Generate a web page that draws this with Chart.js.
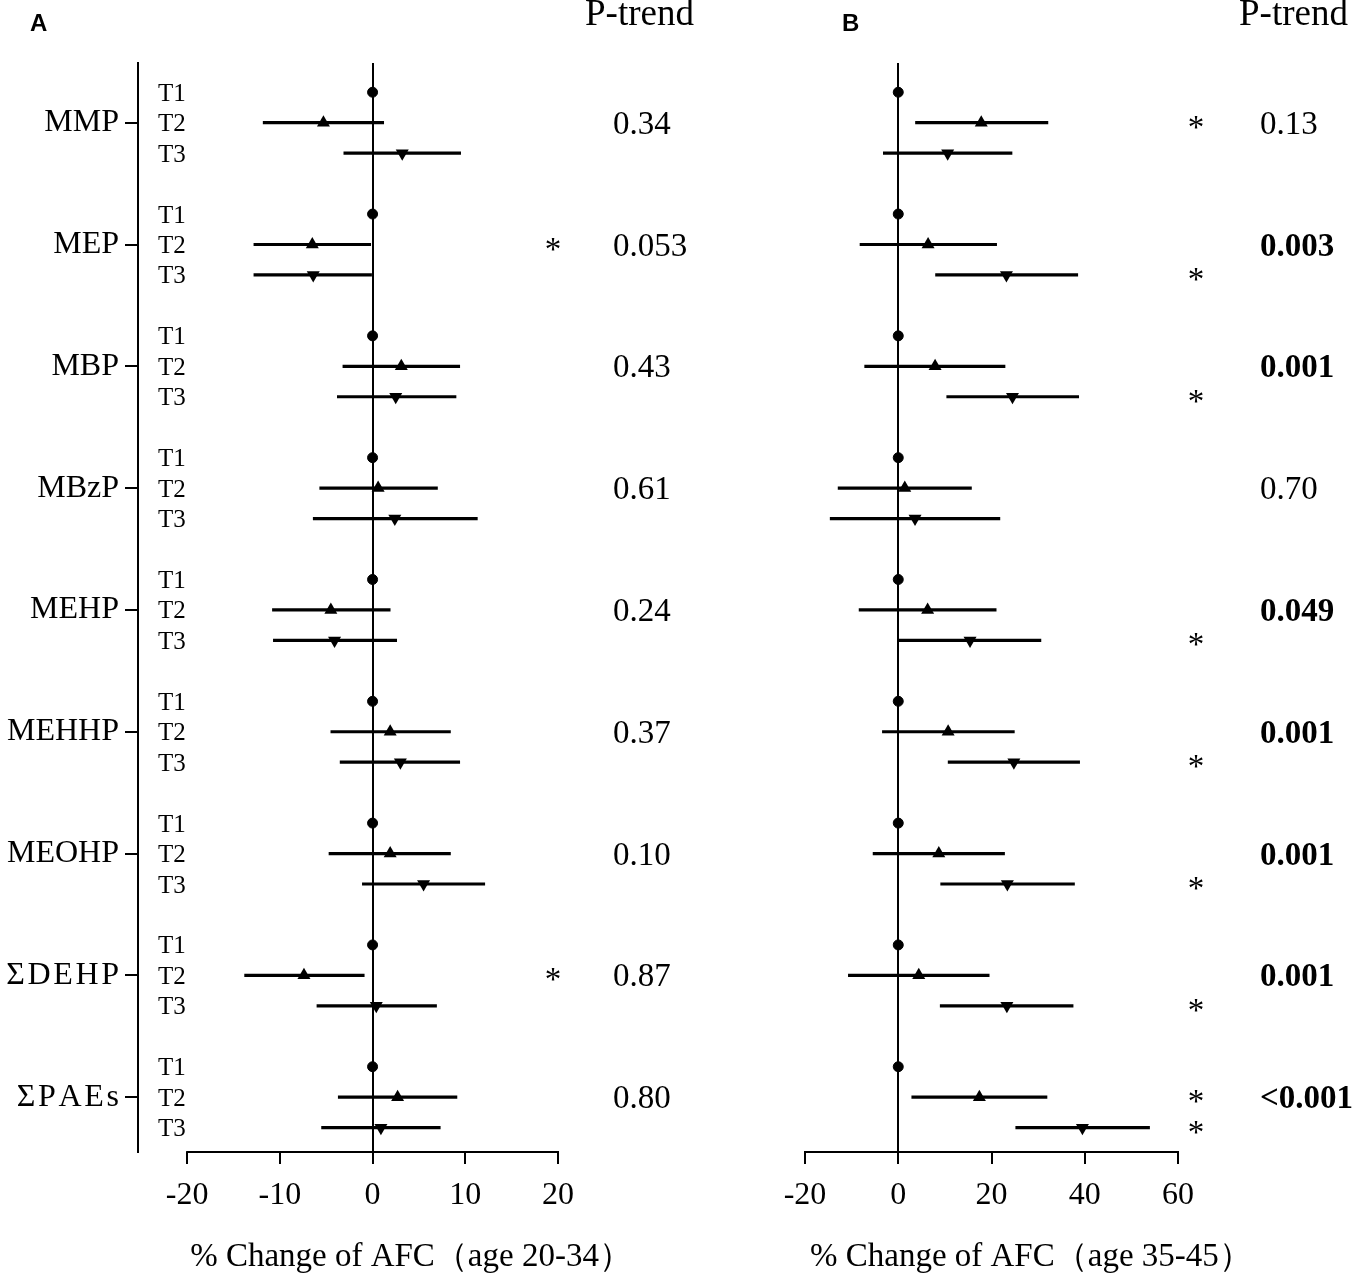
<!DOCTYPE html>
<html>
<head>
<meta charset="utf-8">
<script src="https://cdn.jsdelivr.net/npm/chart.js@4.4.1/dist/chart.umd.min.js"></script>
<style>
  body { margin: 0; background: #fff; }
  #wrap { position: relative; width: 1358px; height: 1283px; }
  canvas { position: absolute; top: 0; }
  #chartA { left: 0; }
  #chartB { left: 720px; }
</style>
</head>
<body>
<div id="wrap">
  <canvas id="chartA" width="720" height="1283"></canvas>
  <canvas id="chartB" width="638" height="1283"></canvas>
</div>
<script>
// ========== DATA ==========
const groupLabels = ['MMP', 'MEP', 'MBP', 'MBzP', 'MEHP', 'MEHHP', 'MEOHP',
  'Σ\u200AD\u200AE\u200AH\u200AP', 'Σ\u200AP\u200AA\u200AE\u200As'];
const tierLabels = ['T1', 'T2', 'T3'];

// Panel A: age 20-34
const aT2Est = [-5.3, -6.5, 3.1, 0.6, -4.5, 1.9, 1.9, -7.4, 2.7];
const aT2Lo  = [-11.8, -12.8, -3.2, -5.7, -10.8, -4.5, -4.7, -13.8, -3.7];
const aT2Hi  = [1.2, -0.2, 9.4, 7.0, 1.9, 8.4, 8.4, -0.9, 9.1];
const aT3Est = [3.2, -6.4, 2.5, 2.4, -4.1, 3.0, 5.5, 0.4, 0.9];
const aT3Lo  = [-3.1, -12.8, -3.8, -6.4, -10.7, -3.5, -1.1, -6.0, -5.5];
const aT3Hi  = [9.5, 0.0, 9.0, 11.3, 2.6, 9.4, 12.1, 6.9, 7.3];
const aPTrend = ['0.34', '0.053', '0.43', '0.61', '0.24', '0.37', '0.10', '0.87', '0.80'];
const aPBold  = [0, 0, 0, 0, 0, 0, 0, 0, 0];
const aStarT2 = [0, 1, 0, 0, 0, 0, 0, 1, 0];
const aStarT3 = [0, 0, 0, 0, 0, 0, 0, 0, 0];
const aTicks  = [-20, -10, 0, 10, 20];

// Panel B: age 35-45
const bT2Est = [17.8, 6.4, 7.9, 1.4, 6.3, 10.7, 8.7, 4.4, 17.4];
const bT2Lo  = [3.7, -8.2, -7.2, -12.9, -8.4, -3.4, -5.4, -10.7, 2.9];
const bT2Hi  = [32.1, 21.1, 22.9, 15.7, 21.0, 24.9, 22.8, 19.5, 31.9];
const bT3Est = [10.6, 23.2, 24.5, 3.6, 15.4, 24.8, 23.4, 23.3, 39.5];
const bT3Lo  = [-3.2, 8.0, 10.4, -14.6, 0.0, 10.7, 9.1, 9.0, 25.2];
const bT3Hi  = [24.4, 38.5, 38.7, 21.8, 30.6, 38.9, 37.8, 37.5, 53.9];
const bPTrend = ['0.13', '0.003', '0.001', '0.70', '0.049', '0.001', '0.001', '0.001', '<0.001'];
const bPBold  = [0, 1, 1, 0, 1, 1, 1, 1, 1];
const bStarT2 = [1, 0, 0, 0, 0, 0, 0, 0, 1];
const bStarT3 = [0, 1, 1, 0, 1, 1, 1, 1, 1];
const bTicks  = [-20, 0, 20, 40, 60];

const SERIF = '"Liberation Serif", "Times New Roman", serif';
const rowOf = (g, t) => g * 4 + t;

// ========== EXTRA TEXT PLUGIN ==========
const extrasPlugin = {
  id: 'extras',
  afterDraw(chart, args, o) {
    const { ctx, chartArea } = chart;
    const xs = chart.scales.x, ys = chart.scales.y;
    ctx.save();
    ctx.fillStyle = '#000';
    ctx.strokeStyle = '#000';

    if (o.axisLine) {
      ctx.lineWidth = 2;
      ctx.beginPath();
      ctx.moveTo(xs.getPixelForValue(o.ticks[0]) - 1, chartArea.bottom);
      ctx.lineTo(xs.getPixelForValue(o.ticks[o.ticks.length - 1]) + 1, chartArea.bottom);
      ctx.stroke();
    }

    ctx.textBaseline = 'alphabetic';
    if (o.tiers) {
      ctx.font = '25px ' + SERIF;
      ctx.textAlign = 'left';
      groupLabels.forEach((_, g) => {
        tierLabels.forEach((lab, t) => {
          ctx.fillText(lab, chartArea.left + 20, ys.getPixelForValue(rowOf(g, t)) + 8.5);
        });
      });
    }

    // significance stars
    ctx.font = '33px ' + SERIF;
    ctx.textAlign = 'center';
    groupLabels.forEach((_, g) => {
      if (o.starT2[g]) ctx.fillText('*', chartArea.right + o.starDx, ys.getPixelForValue(rowOf(g, 1)) + 15);
      if (o.starT3[g]) ctx.fillText('*', chartArea.right + o.starDx, ys.getPixelForValue(rowOf(g, 2)) + 15);
    });

    // P-trend values
    ctx.textAlign = 'left';
    groupLabels.forEach((_, g) => {
      ctx.font = (o.pBold[g] ? 'bold ' : '') + '33px ' + SERIF;
      ctx.fillText(o.pTrend[g], chartArea.right + o.pDx, ys.getPixelForValue(rowOf(g, 1)) + 11);
    });

    ctx.font = '37px ' + SERIF;
    ctx.fillText('P-trend', chartArea.right + o.headDx, 25);

    ctx.font = 'bold 24px "Liberation Sans", Arial, sans-serif';
    ctx.fillText(o.letter, o.letterX, 31);

    ctx.font = '33px ' + SERIF;
    ctx.fillText(o.title, xs.getPixelForValue(o.ticks[0]) + o.titleDx, 1266);
    ctx.restore();
  }
};

// ========== CHART BUILDER ==========
function buildChart(id, d) {
  const barRows = (lo, hi, t) => lo.map((v, g) => ({ y: rowOf(g, t), x: [v, hi[g]] }));
  const pts = (est, t) => est.map((v, g) => ({ x: v, y: rowOf(g, t) }));

  return new Chart(document.getElementById(id), {
    type: 'scatter',
    data: {
      datasets: [
        { type: 'bar', indexAxis: 'y', grouped: false, data: barRows(d.t2Lo, d.t2Hi, 1),
          backgroundColor: '#000', barThickness: 2.5 },
        { type: 'bar', indexAxis: 'y', grouped: false, data: barRows(d.t3Lo, d.t3Hi, 2),
          backgroundColor: '#000', barThickness: 2.5 },
        { data: groupLabels.map((_, g) => ({ x: 0, y: rowOf(g, 0) })),
          pointStyle: 'circle', pointRadius: 5, backgroundColor: '#000', borderColor: '#000' },
        { data: pts(d.t2Est, 1), pointStyle: 'triangle', pointRadius: 7.5,
          backgroundColor: '#000', borderColor: '#000', borderWidth: 0 },
        { data: pts(d.t3Est, 2), pointStyle: 'triangle', rotation: 180, pointRadius: 7.5,
          backgroundColor: '#000', borderColor: '#000', borderWidth: 0 }
      ]
    },
    options: {
      responsive: false,
      animation: false,
      layout: { padding: { top: 63, left: d.padLeft, right: d.padRight, bottom: 0 } },
      plugins: {
        legend: { display: false },
        tooltip: { enabled: false },
        extras: {
          axisLine: d.axisLine, tiers: d.tiers, ticks: d.ticks,
          pTrend: d.pTrend, pBold: d.pBold, starT2: d.starT2, starT3: d.starT3,
          starDx: d.starDx, pDx: d.pDx, headDx: d.headDx,
          letter: d.letter, letterX: d.letterX, title: d.title, titleDx: d.titleDx
        }
      },
      scales: {
        x: {
          type: 'linear',
          min: d.xMin, max: d.xMax,
          offset: false,
          afterBuildTicks: s => { s.ticks = d.ticks.map(v => ({ value: v })); },
          afterFit: s => { s.height = 131; },
          border: { display: !d.axisLine, color: '#000', width: 2 },
          grid: {
            offset: false,
            drawOnChartArea: true,
            color: c => (c.tick && c.tick.value === 0 ? '#000' : 'rgba(0,0,0,0)'),
            tickColor: '#000',
            lineWidth: 2,
            tickLength: 12
          },
          ticks: { color: '#000', padding: 12, font: { family: SERIF, size: 32 } }
        },
        y: {
          type: 'linear',
          reverse: true,
          offset: false,
          min: -0.96, max: 34.8,
          display: d.yAxis,
          afterBuildTicks: s => { s.ticks = groupLabels.map((_, g) => ({ value: rowOf(g, 1) })); },
          afterFit: s => { s.width = d.yAxis ? 138 : 0; },
          border: { color: '#000', width: 2 },
          grid: { offset: false, drawOnChartArea: false, color: '#000', lineWidth: 2, tickLength: 13 },
          ticks: {
            color: '#000', padding: 6,
            font: { family: SERIF, size: 32 },
            callback: v => groupLabels[Math.round((v - 1) / 4)]
          }
        }
      }
    },
    plugins: [extrasPlugin]
  });
}

// ========== INIT ==========
buildChart('chartA', {
  t2Est: aT2Est, t2Lo: aT2Lo, t2Hi: aT2Hi, t3Est: aT3Est, t3Lo: aT3Lo, t3Hi: aT3Hi,
  pTrend: aPTrend, pBold: aPBold, starT2: aStarT2, starT3: aStarT3, ticks: aTicks,
  xMin: -25.3, xMax: 20, padLeft: 0, padRight: 162, yAxis: true, axisLine: true, tiers: true,
  starDx: -5, pDx: 55, headDx: 27, letter: 'A', letterX: 30,
  title: '% Change of AFC（age 20-34）', titleDx: 3
});

buildChart('chartB', {
  t2Est: bT2Est, t2Lo: bT2Lo, t2Hi: bT2Hi, t3Est: bT3Est, t3Lo: bT3Lo, t3Hi: bT3Hi,
  pTrend: bPTrend, pBold: bPBold, starT2: bStarT2, starT3: bStarT3, ticks: bTicks,
  xMin: -20, xMax: 60, padLeft: 85, padRight: 180, yAxis: false, axisLine: false, tiers: false,
  starDx: 18, pDx: 82, headDx: 61, letter: 'B', letterX: 122,
  title: '% Change of AFC（age 35-45）', titleDx: 5
});
</script>
</body>
</html>
